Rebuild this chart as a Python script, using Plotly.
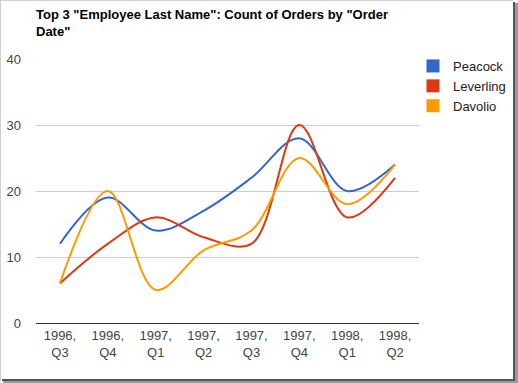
import plotly.graph_objects as go

quarters = ["1996, Q3", "1996, Q4", "1997, Q1", "1997, Q2", "1997, Q3", "1997, Q4", "1998, Q1", "1998, Q2"]
tick_labels = ["1996,<br>Q3", "1996,<br>Q4", "1997,<br>Q1", "1997,<br>Q2", "1997,<br>Q3", "1997,<br>Q4", "1998,<br>Q1", "1998,<br>Q2"]
peacock = [12, 19, 14, 17, 22, 28, 20, 24]
leverling = [6, 12, 16, 13, 12, 30, 16, 22]
davolio = [6, 20, 5, 11, 14, 25, 18, 24]

series = [("Peacock", peacock, "#3366cc"), ("Leverling", leverling, "#dc3912"), ("Davolio", davolio, "#ff9900")]

W, H = 518, 383
L, R, T, B = 36, 99, 59, 60
pw, ph = W - L - R, H - T - B

def px(x):
    return (x - L) / pw

def py(y):
    return (H - B - y) / ph

fig = go.Figure()
for name, vals, col in series:
    fig.add_trace(go.Scatter(
        x=list(range(len(quarters))), y=vals, name=name, mode="lines",
        line=dict(color=col, width=2, shape="spline", smoothing=1.0),
        showlegend=False, hoverinfo="x+y+name"))
    fig.add_trace(go.Scatter(
        x=[None], y=[None], name=name, mode="markers",
        marker=dict(symbol="square", size=13, color=col), showlegend=True))

shapes = [
    dict(type="line", xref="paper", yref="paper", x0=px(0.5), x1=px(0.5), y0=py(0), y1=py(381), line=dict(color="#cfcfcf", width=1)),
    dict(type="line", xref="paper", yref="paper", x0=px(0), x1=px(513), y0=py(0.5), y1=py(0.5), line=dict(color="#cfcfcf", width=1)),
    dict(type="rect", xref="paper", yref="paper", x0=px(513), x1=px(518), y0=py(3), y1=py(383), fillcolor="#9a9a9a", line=dict(width=0), layer="above"),
    dict(type="rect", xref="paper", yref="paper", x0=px(513), x1=px(515), y0=py(2), y1=py(381), fillcolor="#555555", line=dict(width=0), layer="above"),
    dict(type="rect", xref="paper", yref="paper", x0=px(3), x1=px(518), y0=py(379), y1=py(383), fillcolor="#9a9a9a", line=dict(width=0), layer="above"),
    dict(type="rect", xref="paper", yref="paper", x0=px(2), x1=px(515), y0=py(379), y1=py(381), fillcolor="#555555", line=dict(width=0), layer="above"),
]

fig.update_layout(
    width=W, height=H,
    margin=dict(l=L, r=R, t=T, b=B, autoexpand=False),
    paper_bgcolor="white", plot_bgcolor="white",
    font=dict(family="Arial, Liberation Sans, sans-serif", size=13, color="#444444"),
    title=dict(text='Top 3 "Employee Last Name": Count of Orders by "Order<br>Date"',
               font=dict(family="Arial, Liberation Sans, sans-serif", size=13, color="#000000", weight="bold"),
               x=L / W, xanchor="left", xref="container",
               y=1 - 19 / H, yanchor="top", yref="container"),
    xaxis=dict(tickmode="array", tickvals=list(range(len(quarters))), ticktext=tick_labels,
               range=[-0.5, len(quarters) - 0.5], showgrid=False, zeroline=False,
               showline=True, linecolor="#333333", linewidth=1, ticks="", fixedrange=True,
               automargin=False, tickfont=dict(size=13, color="#444444")),
    yaxis=dict(range=[0, 40], dtick=10, showgrid=True, gridcolor="#cccccc", gridwidth=1,
               zeroline=False, showline=False, ticks="", ticklabelstandoff=14, fixedrange=True,
               automargin=False, tickfont=dict(size=13, color="#444444")),
    legend=dict(x=px(413), y=py(51), xanchor="left", yanchor="top",
                font=dict(size=13, color="#222222"), itemsizing="trace",
                tracegroupgap=0, bgcolor="rgba(0,0,0,0)"),
    shapes=shapes,
)

fig.write_html("out.html", config={"displayModeBar": False},
               post_script="document.body.style.margin='0';document.body.style.padding='0';document.body.style.overflow='hidden';")
